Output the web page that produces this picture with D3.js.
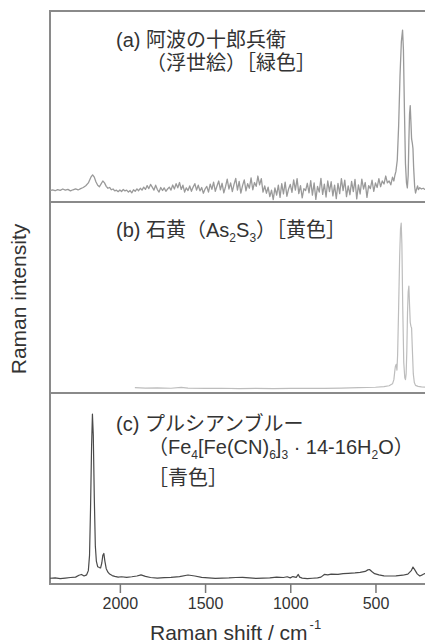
<!DOCTYPE html>
<html><head><meta charset="utf-8">
<script src="https://cdn.jsdelivr.net/npm/d3@7"></script>
<style>
html,body{margin:0;padding:0;background:#fff;}
svg{display:block;}
text{font-family:"Liberation Sans","Noto Sans CJK JP",sans-serif;fill:#333;}
</style></head>
<body>
<svg id="chart" width="425" height="644"></svg>
<script>
// ---- data (Raman shift cm-1, relative intensity 0-100) ----
const xTicks = [2000, 1500, 1000, 500];
const xTitle = "Raman shift / cm";
const yTitle = "Raman intensity";

const spectrumA = [[2410,6],[2395,6.4],[2380,5.9],[2365,6.5],[2350,6.1],[2335,6.8],[2320,6.2],[2305,6.6],[2290,5.8],[2275,6.4],[2260,6.9],[2245,6.3],[2230,7],[2215,7.6],[2200,8.5],[2185,10],[2170,13],[2160,14.2],[2150,13],[2140,10.5],[2130,8.8],[2120,8],[2110,9.5],[2100,11],[2090,10],[2080,8.2],[2070,7.2],[2060,7.6],[2050,6.4],[2040,6.8],[2030,5.8],[2020,6.2],[2010,5.4],[2000,6.3],[1990,5.5],[1980,6.6],[1970,5.8],[1960,6.2],[1950,5.2],[1940,6],[1930,4.8],[1920,6.4],[1910,5.6],[1900,6.9],[1890,5.9],[1880,7.2],[1870,6.2],[1860,7.8],[1850,6.6],[1840,8.6],[1830,7],[1820,9.2],[1810,7.8],[1800,6.2],[1790,8.8],[1780,6.5],[1770,5.2],[1760,7.6],[1750,6],[1740,7.4],[1730,5.6],[1720,6.8],[1710,7.8],[1700,6.2],[1690,8.9],[1680,6.8],[1670,9.6],[1660,7.4],[1650,10.2],[1640,6.6],[1630,8.8],[1620,5.2],[1610,7.4],[1600,6],[1590,8.4],[1580,5.6],[1570,7.8],[1560,9.6],[1550,6.2],[1540,8.8],[1530,5.8],[1520,7.6],[1510,4.6],[1500,6.8],[1490,8.2],[1480,5.2],[1470,9.4],[1460,6.6],[1450,10.4],[1440,5.6],[1430,8.4],[1420,11],[1410,6.4],[1400,9.8],[1390,4.8],[1380,8],[1370,12],[1360,6.8],[1350,10],[1340,5.4],[1330,9.2],[1320,12.4],[1310,6.2],[1300,10.8],[1290,4.6],[1280,8.6],[1270,11.6],[1260,5.8],[1250,9.6],[1240,7.2],[1230,12.6],[1220,6.4],[1210,10.2],[1200,8.2],[1190,13.6],[1180,9],[1170,12.2],[1160,5.2],[1150,8.4],[1140,4.6],[1130,7.8],[1120,2.8],[1110,6.2],[1100,1.2],[1090,7.4],[1080,3.6],[1070,8.8],[1060,2.4],[1050,9.6],[1040,4.2],[1030,10.4],[1020,3],[1010,6.8],[1000,9.2],[990,5],[980,11.6],[970,6.2],[960,12.2],[950,4.4],[940,8.6],[930,2.2],[920,7],[910,6],[900,9.8],[890,4.8],[880,11.2],[870,3.6],[860,10],[850,1.4],[840,8.2],[830,5.2],[820,12.4],[810,4],[800,9.4],[790,2.6],[780,11],[770,5.4],[760,10.6],[750,3.2],[740,8.8],[730,1.8],[720,9.8],[710,4.4],[700,12.2],[690,6],[680,11.4],[670,2.8],[660,8.4],[650,3.8],[640,10.8],[630,5.4],[620,11.8],[610,1.6],[600,9],[590,4.2],[580,12],[570,6.8],[560,10.2],[550,2.4],[540,8.6],[530,7],[520,11.4],[510,5.6],[500,10],[490,7.6],[480,12.2],[470,8],[460,11],[450,9.4],[440,13.6],[430,10],[420,11],[410,9],[400,13],[392,11],[386,14],[380,16],[372,22],[364,40],[356,66],[348,84],[341,90],[336,80],[330,48],[324,20],[318,10],[313,7.4],[308,14],[304,32],[300,46],[296,50.5],[292,42],[288,33],[284,31],[280,28],[276,18],[270,8],[265,4.7],[258,7],[253,8.4],[248,6.5],[240,7.5],[230,6.8],[220,7.2],[210,6.6],[200,7],[185,6.8]];

const spectrumB = [[1912,2.8],[1850,2.6],[1780,2.7],[1700,2.5],[1640,2.9],[1600,2.6],[1500,2.4],[1400,2.5],[1300,2.3],[1200,2.4],[1100,2.3],[1000,2.4],[900,2.5],[800,2.4],[700,2.6],[600,2.8],[500,3],[450,3.3],[420,3.8],[400,4.8],[392,7],[386,12],[383,14],[378,15],[374,12],[370,20],[364,45],[358,72],[353,86],[349,89],[345,78],[340,45],[334,16],[328,8],[324,7],[320,10],[316,22],[312,42],[308,53],[304,56],[300,46],[296,37],[292,35],[288,34],[284,24],[278,10],[272,5.5],[265,4],[250,3.5],[230,3.2],[200,3],[185,3]];

const spectrumC = [[2410,3],[2380,3.2],[2350,2.8],[2320,3.1],[2290,3.4],[2260,3.6],[2240,4.6],[2225,5],[2210,4.2],[2195,4.8],[2185,7],[2178,15],[2172,40],[2166,72],[2161,89],[2156,78],[2150,45],[2144,20],[2138,12],[2130,9],[2120,8.6],[2113,8.4],[2106,11],[2100,15],[2094,16],[2088,12],[2080,8],[2070,6.2],[2060,5.2],[2045,4.4],[2030,4],[2010,3.6],[1990,3.8],[1960,3.5],[1930,3.8],[1900,4.2],[1876,4.8],[1850,4],[1820,3.4],[1780,3.1],[1740,3.3],[1700,3.5],[1650,3.9],[1600,4.7],[1560,4.2],[1520,3.5],[1480,3.2],[1440,2.9],[1400,3.1],[1360,3.2],[1320,3.4],[1280,3.5],[1240,3.2],[1200,2.9],[1160,3.1],[1120,3.2],[1080,3.6],[1040,3.4],[1018,3.8],[1000,3.2],[985,3.9],[965,3.5],[953,5],[945,3.6],[930,3.1],[900,2.8],[870,3],[840,3.2],[820,3.6],[800,5],[780,4.8],[760,5.2],[720,5],[690,5.4],[660,5.6],[620,5.8],[590,6.1],[560,6.6],[545,7.4],[535,7.6],[520,6.4],[505,5.4],[480,4.8],[450,4.3],[420,4.2],[380,4.3],[340,4.6],[310,5.2],[290,7],[280,8.9],[270,7.5],[255,5.3],[240,4.2],[225,4.8],[210,5.5],[195,5],[185,5]];

const labelA = [
  [{t:"(a) 阿波の十郎兵衛"}],
  [{t:"（浮世絵）［緑色］"}]
];
const labelB = [
  [{t:"(b) 石黄（As"},{t:"2",sub:1},{t:"S"},{t:"3",sub:1},{t:"）［黄色］"}]
];
const labelC = [
  [{t:"(c) プルシアンブルー"}],
  [{t:"（Fe"},{t:"4",sub:1},{t:"[Fe(CN)"},{t:"6",sub:1},{t:"]"},{t:"3",sub:1},{t:" · 14-16H"},{t:"2",sub:1},{t:"O）"}],
  [{t:"［青色］"}]
];

// ---- layout ----
const svg = d3.select("#chart");
const left = 50, right = 430;
const x = d3.scaleLinear().domain([2410, 180]).range([left, right]);

const panels = [
  {data: spectrumA, top: 11, bottom: 202, color: "#9a9a9a", width: 1.3, label: labelA,
   lx: [116, 146], ly: [47, 70]},
  {data: spectrumB, top: 202, bottom: 393, color: "#bdbdbd", width: 1.2, label: labelB,
   lx: [116], ly: [237]},
  {data: spectrumC, top: 393, bottom: 584, color: "#4a4a4a", width: 1.2, label: labelC,
   lx: [116, 148, 148], ly: [431, 454, 485]}
];

panels.forEach(p => {
  const y = d3.scaleLinear().domain([0, 100]).range([p.bottom, p.top]);
  const g = svg.append("g");
  g.append("rect").attr("x", left).attr("y", p.top)
    .attr("width", right - left).attr("height", p.bottom - p.top)
    .attr("fill", "none").attr("stroke", "#8a8a8a").attr("stroke-width", 2);
  g.append("path").datum(p.data)
    .attr("fill", "none").attr("stroke", p.color).attr("stroke-width", p.width)
    .attr("stroke-linejoin", "round")
    .attr("d", d3.line().x(d => x(d[0])).y(d => y(d[1])));
  p.label.forEach((line, i) => {
    const t = g.append("text").attr("x", p.lx[i]).attr("y", p.ly[i])
      .attr("font-size", 20);
    line.forEach((s, k) => {
      const ts = t.append("tspan").text(s.t);
      if (s.sub) ts.attr("font-size", 12).attr("dy", 5);
      else if (k > 0 && line[k-1].sub) ts.attr("dy", -5);
    });
  });
});

// x axis
const axis = d3.axisBottom(x).tickValues(xTicks).tickSize(9).tickPadding(5)
  .tickFormat(d3.format("d"));
const ax = svg.append("g").attr("transform", "translate(0,584)").call(axis);
ax.select(".domain").remove();
ax.selectAll(".tick line").attr("stroke", "#777").attr("stroke-width", 1.5);
ax.selectAll(".tick text").attr("font-size", 16).attr("fill", "#444")
  .attr("font-family", "Liberation Sans, sans-serif");

// axis titles
const xt = svg.append("text").attr("x", 150).attr("y", 640).attr("font-size", 21).attr("fill", "#444");
xt.append("tspan").text(xTitle);
xt.append("tspan").text("-1").attr("font-size", 13).attr("dy", -11).attr("dx", 2);

svg.append("text").attr("transform", "translate(26,299) rotate(-90)")
  .attr("text-anchor", "middle").attr("font-size", 21).attr("fill", "#444").text(yTitle);
</script>
</body></html>
